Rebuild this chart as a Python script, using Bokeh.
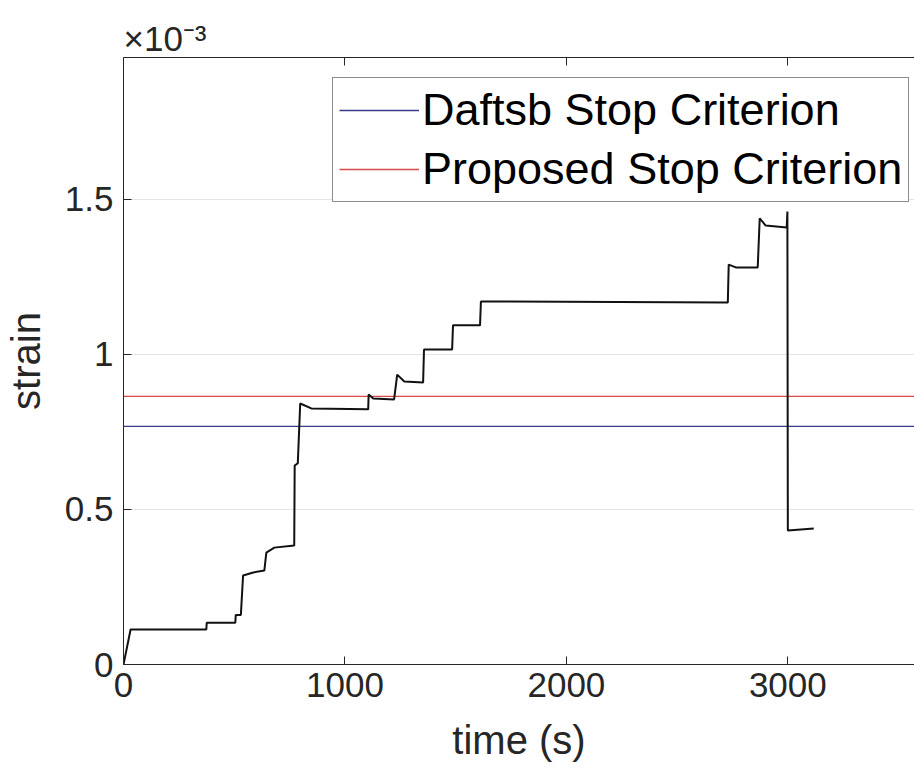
from bokeh.plotting import figure
from bokeh.models import FixedTicker, LinearAxis, CustomJSTickFormatter
from bokeh.embed import file_html
from bokeh.resources import INLINE

# Measured strain history (strain values in units of 1e-3)
time_s = [0, 32, 374, 376, 505, 507, 530, 540, 586, 636, 645, 681, 771, 773,
          785, 787, 798, 848, 1105, 1107, 1128, 1222, 1236, 1268, 1353, 1357,
          1484, 1488, 1610, 1614, 2729, 2733, 2765, 2864, 2873, 2900, 2995,
          2998, 3000, 3117]
strain_e3 = [0.0, 0.113, 0.113, 0.135, 0.135, 0.160, 0.160, 0.287, 0.297,
             0.303, 0.361, 0.377, 0.384, 0.642, 0.648, 0.648, 0.842, 0.826,
             0.823, 0.871, 0.858, 0.855, 0.935, 0.913, 0.910, 1.016, 1.016,
             1.094, 1.094, 1.171, 1.168, 1.290, 1.281, 1.281, 1.439, 1.416,
             1.410, 1.461, 0.432, 0.439]

# Stop-criterion thresholds (units of 1e-3)
daftsb_level = 0.768
proposed_level = 0.865

x_ticks = [0, 1000, 2000, 3000]
y_ticks = [0, 0.5, 1, 1.5]
x_max = 3572
y_max = 1.958

FONT = "Liberation Sans"
TEXT_COLOR = "#262626"
TICK_SIZE = "35px"
LABEL_SIZE = "40px"

p = figure(width=914, height=774, x_range=(0, x_max), y_range=(0, y_max),
           output_backend="svg", toolbar_location=None,
           min_border_left=122, min_border_right=0,
           min_border_top=57, min_border_bottom=110,
           x_axis_label="time (s)", y_axis_label="strain",
           title="×10⁻³")
p.outline_line_color = None
p.background_fill_color = "white"
p.border_fill_color = "white"

# exponent marker shown as the title, flush with the strain axis
p.title.align = "left"
p.title.offset = 0
p.title.standoff = 0
p.title.text_font = FONT
p.title.text_font_size = TICK_SIZE
p.title.text_font_style = "normal"
p.title.text_color = TEXT_COLOR

p.xgrid.visible = False
p.ygrid.ticker = FixedTicker(ticks=y_ticks)
p.ygrid.grid_line_color = "#e4e4e4"
p.ygrid.grid_line_width = 1

p.xaxis.ticker = FixedTicker(ticks=x_ticks)
p.yaxis.ticker = FixedTicker(ticks=y_ticks)
p.yaxis.formatter = CustomJSTickFormatter(code="return String(tick);")

for ax in (p.xaxis[0], p.yaxis[0]):
    ax.axis_line_color = TEXT_COLOR
    ax.axis_line_width = 1
    ax.major_tick_in = 8
    ax.major_tick_out = 0
    ax.major_tick_line_color = TEXT_COLOR
    ax.minor_tick_line_color = None
    ax.major_label_text_font = FONT
    ax.major_label_text_font_size = TICK_SIZE
    ax.major_label_text_color = TEXT_COLOR
    ax.axis_label_text_font = FONT
    ax.axis_label_text_font_size = LABEL_SIZE
    ax.axis_label_text_font_style = "normal"
    ax.axis_label_text_color = TEXT_COLOR

p.xaxis.major_label_standoff = 8
p.xaxis.axis_label_standoff = 18
p.yaxis.major_label_standoff = 10
p.yaxis.axis_label_standoff = 14

# box edge along the top with inward ticks, no labels
top = LinearAxis(ticker=FixedTicker(ticks=x_ticks),
                 major_label_overrides={t: "" for t in x_ticks},
                 major_label_text_font_size="8px",
                 major_label_standoff=0,
                 major_tick_in=8, major_tick_out=0,
                 minor_tick_line_color=None,
                 axis_line_color=TEXT_COLOR,
                 major_tick_line_color=TEXT_COLOR)
p.add_layout(top, "above")

# thresholds
p.ray(x=[0], y=[daftsb_level], length=0, angle=0, line_color="#3a3a8c",
      line_width=1.4, legend_label="Daftsb Stop Criterion")
p.ray(x=[0], y=[proposed_level], length=0, angle=0, line_color="#d84a4a",
      line_width=1.4, legend_label="Proposed Stop Criterion")

# strain curve
p.line(time_s, strain_e3, line_color="#111111", line_width=2)

leg = p.legend[0]
leg.location = (209, 462)
leg.label_text_font = FONT
leg.label_text_font_size = "45px"
leg.label_text_color = "black"
leg.label_height = 50
leg.glyph_height = 50
leg.glyph_width = 80
leg.label_standoff = 3
leg.spacing = 7
leg.padding = 6
leg.margin = 0
leg.border_line_color = "#1a1a1a"
leg.border_line_width = 1
leg.background_fill_alpha = 1

open("out.html", "w").write(file_html(p, INLINE))
